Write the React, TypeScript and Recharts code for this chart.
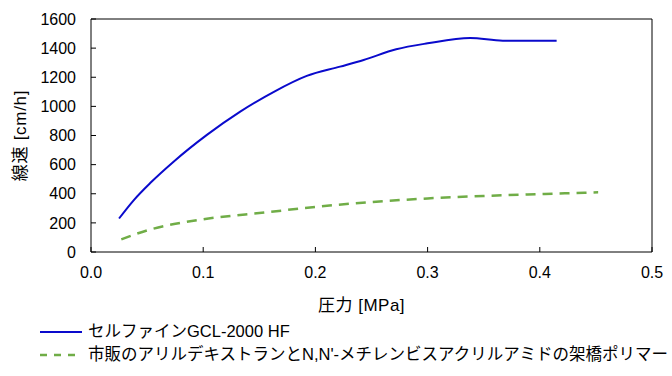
import React from 'react';
import { LineChart, Line, XAxis, YAxis, ReferenceLine } from 'recharts';

const blueP = [0.025, 0.038, 0.053, 0.0736, 0.1033, 0.133, 0.163, 0.1923, 0.222, 0.243, 0.272, 0.3, 0.338, 0.367, 0.415];
const blueV = [230, 355, 475, 620, 804, 964, 1100, 1209, 1273, 1319, 1392, 1433, 1470, 1451, 1451];
const greenP = [0.027, 0.053, 0.074, 0.1, 0.157, 0.2, 0.25, 0.3, 0.35, 0.4, 0.452];
const greenV = [87, 155, 192, 225, 273, 310, 343, 368, 385, 398, 410];
const xTicks = [0, 0.1, 0.2, 0.3, 0.4, 0.5];
const yTicks = [0, 200, 400, 600, 800, 1000, 1200, 1400, 1600];
const seriesNames = ['セルファインGCL-2000 HF', '市販のアリルデキストランとN,N\'-メチレンビスアクリルアミドの架橋ポリマー'];
const xLabel = '圧力 [MPa]';
const yLabel = '線速 [cm/h]';

const blueData = blueP.map((p, i) => ({ p, v: blueV[i] }));
const greenData = greenP.map((p, i) => ({ p, v: greenV[i] }));

const FONT = "'Liberation Sans', 'Noto Sans CJK JP', sans-serif";
const BLUE = '#0a0acc';
const GREEN = '#70ad47';

export default function App() {
  return (
    <div style={{ position: 'absolute', left: 0, top: 0, width: 672, height: 376, background: '#fff', fontFamily: FONT }}>
      <LineChart width={672} height={376} margin={{ top: 19, right: 20, bottom: 64, left: 5 }}>
        <XAxis
          dataKey="p"
          type="number"
          domain={[0, 0.5]}
          ticks={xTicks}
          tickFormatter={(v: number) => v.toFixed(1)}
          height={60}
          tickSize={-5}
          tickMargin={20}
          stroke="#000"
          tick={{ fill: '#000', fontSize: 16, fontFamily: FONT }}
          allowDuplicatedCategory={false}
          label={{ value: xLabel, position: 'insideTop', offset: 47, dx: -10, fill: '#000', fontSize: 17, fontFamily: FONT, letterSpacing: 0.5 }}
        />
        <YAxis
          dataKey="v"
          type="number"
          domain={[0, 1600]}
          ticks={yTicks}
          width={86}
          tickSize={-5}
          tickMargin={20}
          stroke="#000"
          tick={{ fill: '#000', fontSize: 16, fontFamily: FONT }}
          label={{ value: yLabel, angle: -90, position: 'center', dx: -28, fill: '#000', fontSize: 17, fontFamily: FONT, letterSpacing: 0.7 }}
        />
        <ReferenceLine y={1600} stroke="#000" strokeWidth={1} />
        <ReferenceLine x={0.5} stroke="#000" strokeWidth={1} />
        <Line data={blueData} dataKey="v" type="monotone" stroke={BLUE} strokeWidth={2} dot={false} isAnimationActive={false} />
        <Line data={greenData} dataKey="v" type="monotone" stroke={GREEN} strokeWidth={2.5} strokeDasharray="10 7" dot={false} isAnimationActive={false} />
      </LineChart>
      <div style={{ position: 'absolute', left: 40, top: 320, fontSize: 16.5, color: '#000', lineHeight: '23px' }}>
        {[0, 1].map((i) => (
          <div key={i} style={{ display: 'flex', alignItems: 'center', height: 23 }}>
            <svg width={48} height={10} style={{ flex: 'none' }}>
              <line x1={0} y1={5} x2={42} y2={5} stroke={i === 0 ? BLUE : GREEN} strokeWidth={i === 0 ? 2 : 2.5} strokeDasharray={i === 0 ? undefined : '7 7'} />
            </svg>
            <span style={{ whiteSpace: 'nowrap' }}>{seriesNames[i]}</span>
          </div>
        ))}
      </div>
    </div>
  );
}
